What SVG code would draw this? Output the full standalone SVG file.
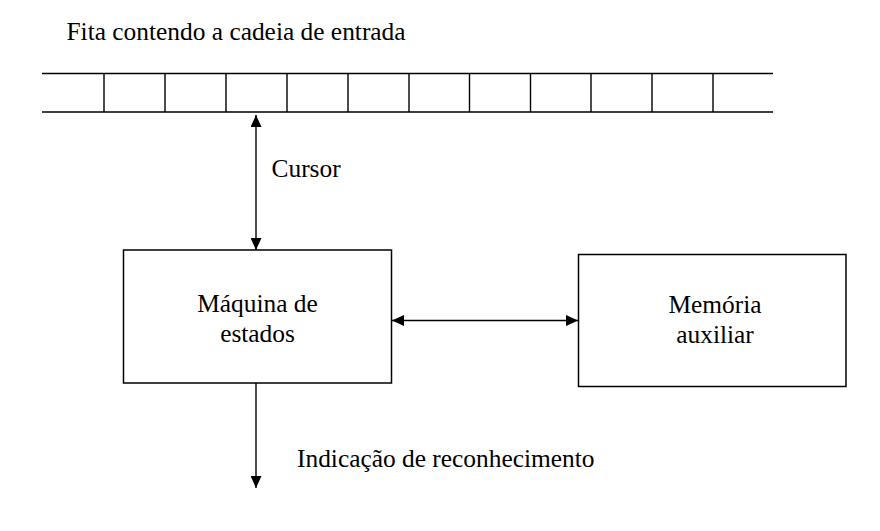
<svg xmlns="http://www.w3.org/2000/svg" width="880" height="531" viewBox="0 0 880 531">
<style>
.t{font-family:'Liberation Serif','Times New Roman',serif;font-size:25.4px;fill:#000}
.ln{stroke:#000;stroke-width:1.4;fill:none}
.box{stroke:#000;stroke-width:1.5;fill:#fff}
</style>
<defs>
<marker id="ah" viewBox="0 0 12 11" refX="12" refY="5.5" markerWidth="12" markerHeight="11" markerUnits="userSpaceOnUse" orient="auto-start-reverse">
<path d="M0,0 L12,5.5 L0,11 Z" fill="#000"/>
</marker>
</defs>
<rect width="880" height="531" fill="#fff"/>
<text class="t" x="66.5" y="40">Fita contendo a cadeia de entrada</text>
<g id="fita">
<path class="ln" d="M42,73.5H773M42,112H773M104,73.5V112M165,73.5V112M226,73.5V112M287,73.5V112M348,73.5V112M409,73.5V112M469.5,73.5V112M530.5,73.5V112M591,73.5V112M652,73.5V112M713,73.5V112"/>
</g>
<g id="maquina">
<rect class="box" x="123.5" y="250" width="268" height="133"/>
<text class="t" x="257.5" y="312" text-anchor="middle">Máquina de</text>
<text class="t" x="257.5" y="342" text-anchor="middle">estados</text>
</g>
<g id="memoria">
<rect class="box" x="578.5" y="254.5" width="267.5" height="132"/>
<text class="t" x="715" y="313" text-anchor="middle">Memória</text>
<text class="t" x="715" y="343" text-anchor="middle">auxiliar</text>
</g>
<g id="connectors">
<line class="ln" x1="256" y1="115" x2="256" y2="250" marker-start="url(#ah)" marker-end="url(#ah)"/>
<line class="ln" x1="392" y1="320.5" x2="578" y2="320.5" marker-start="url(#ah)" marker-end="url(#ah)"/>
<line class="ln" x1="256" y1="383" x2="256" y2="488" marker-end="url(#ah)"/>
</g>
<text class="t" x="271.5" y="177">Cursor</text>
<text class="t" x="297" y="467">Indicação de reconhecimento</text>
</svg>
